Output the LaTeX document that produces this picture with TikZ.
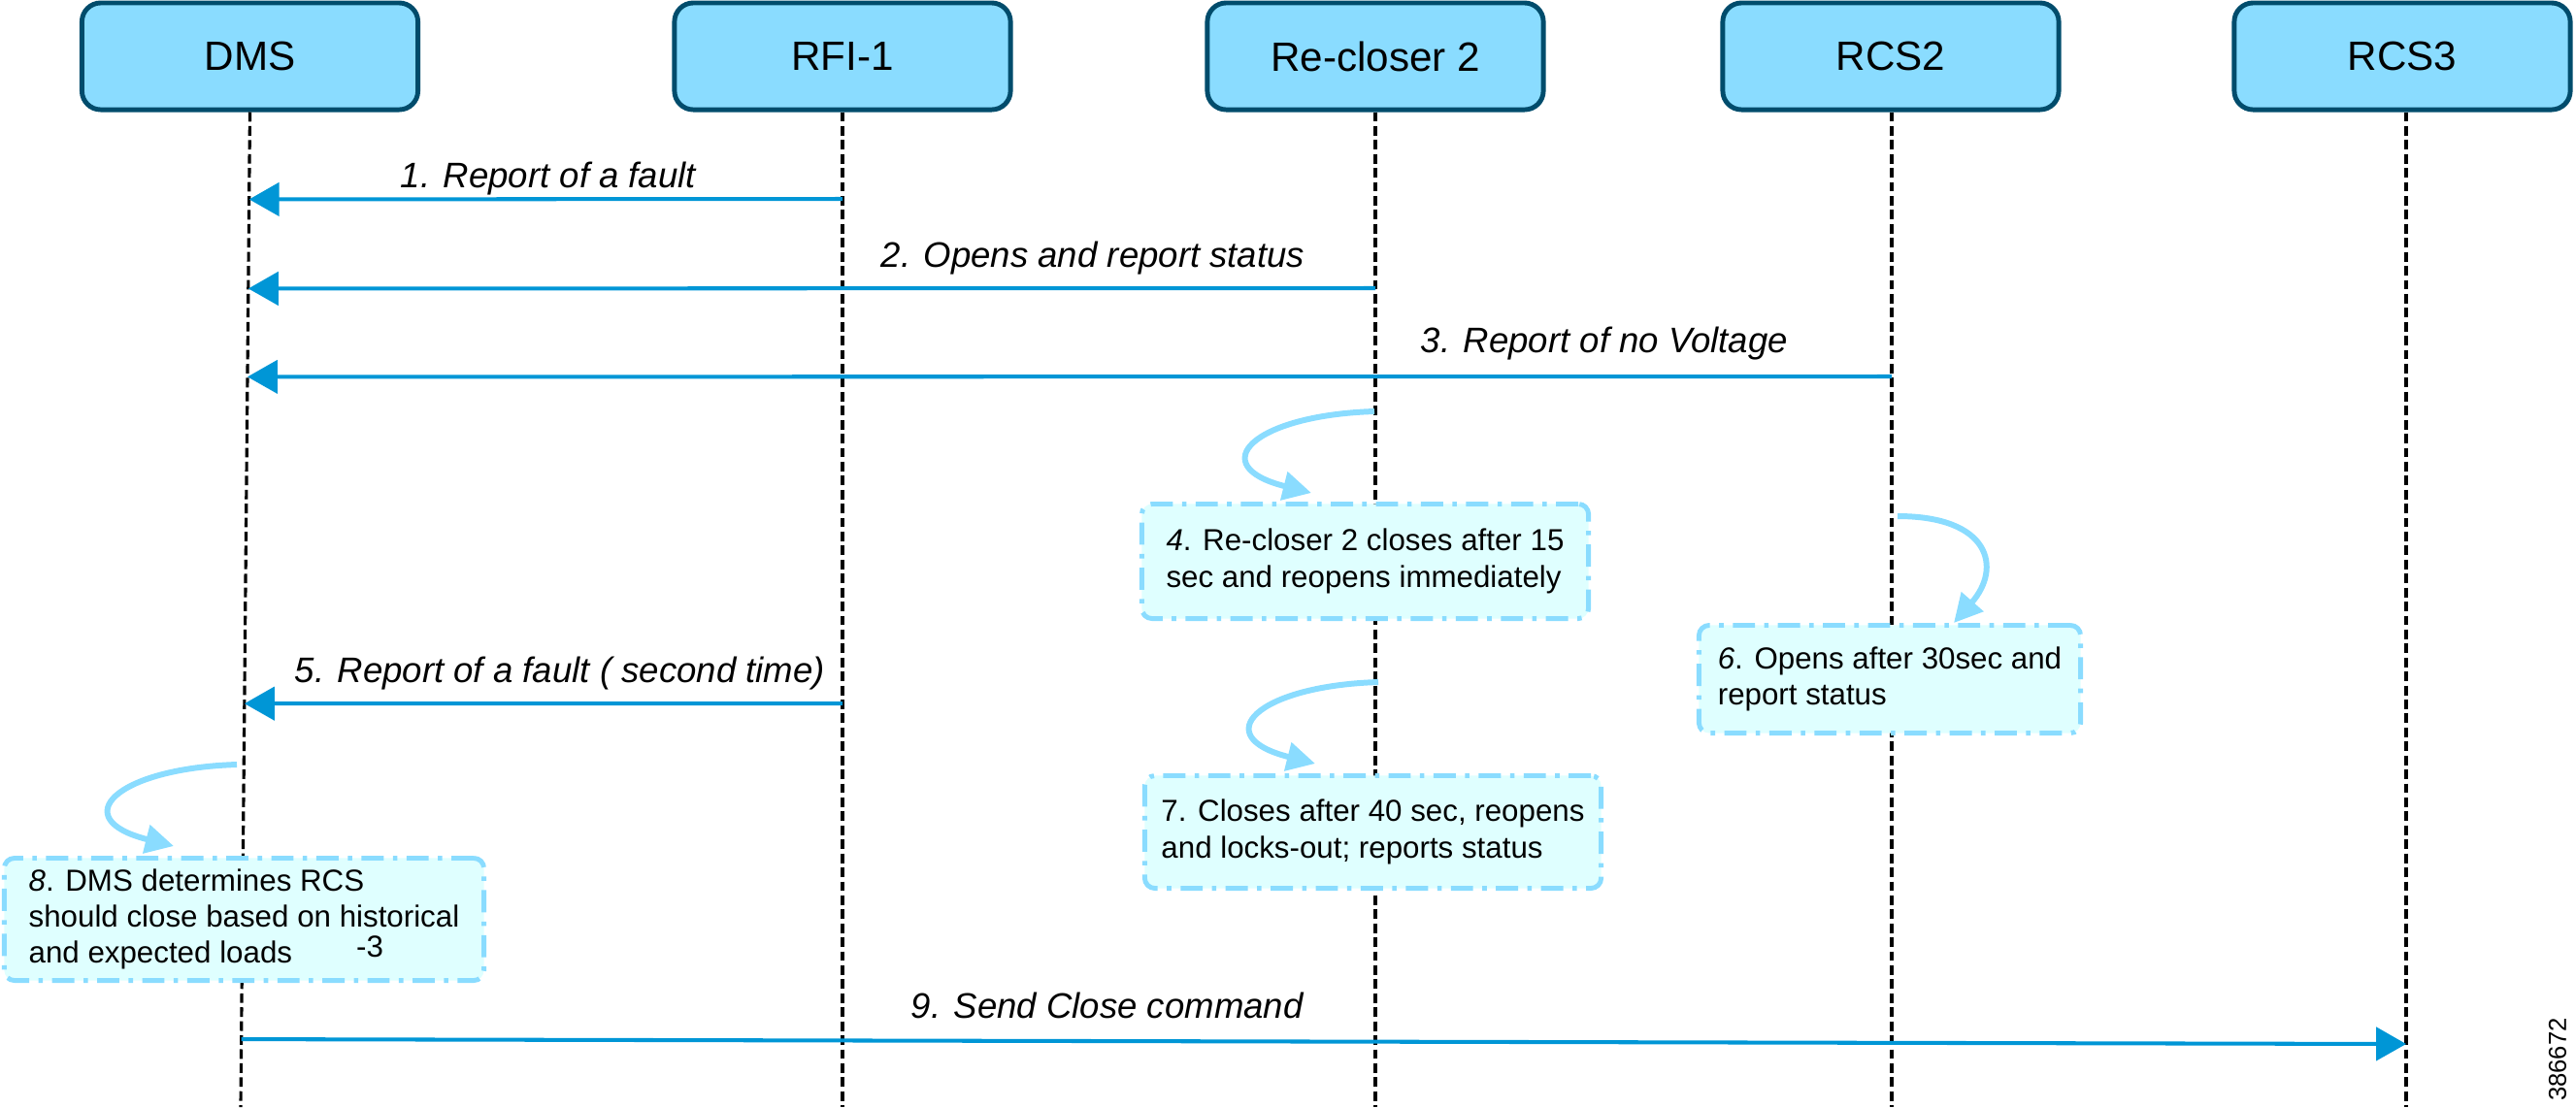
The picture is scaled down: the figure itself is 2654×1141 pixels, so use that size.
\documentclass[tikz,border=0pt]{standalone}
\usepackage{fontspec}
\setmainfont{Liberation Sans}
\usetikzlibrary{arrows.meta,calc}
\definecolor{hdrfill}{RGB}{138,220,255}
\definecolor{hdrline}{RGB}{0,76,108}
\definecolor{msgblue}{RGB}{0,150,214}
\definecolor{loopblue}{RGB}{138,220,255}
\definecolor{notefill}{RGB}{223,255,255}
\begin{document}
\begin{tikzpicture}[x=0.01cm,y=-0.01cm,
 header/.style={draw=hdrline, fill=hdrfill, line width=1.4pt, rounded corners=5.5pt,
   minimum width=3.46cm, minimum height=1.10cm, inner sep=0pt, font=\fontsize{12}{14}\selectfont},
 lifeline/.style={draw=black, line width=0.9pt, dash pattern=on 2.8pt off 1.3pt},
 msg/.style={draw=msgblue, line width=1.15pt, -{Triangle[length=8.8pt,width=9.7pt]}},
 msglabel/.style={font=\fontsize{10.4}{12}\selectfont\itshape, inner sep=0pt, anchor=base west},
 selfloop/.style={draw=loopblue, line width=1.7pt, -{Triangle[length=8.3pt,width=8.3pt]}},
 note/.style={draw=loopblue, fill=notefill, line width=1.4pt,
   dash pattern=on 6.5pt off 2.7pt on 1.3pt off 2.7pt, rounded corners=3pt,
   align=left, inner sep=0pt, font=\fontsize{8.9}{10.6}\selectfont}
]
\useasboundingbox (0,0) rectangle (2654,1141);

% participants
\node[header] (DMS)  at (257.5,58) {DMS};
\node[header] (RFI)  at (868,58)   {RFI-1};
\node[header] (RC2)  at (1417,58)  {Re-closer 2};
\node[header] (RCS2) at (1948,58)  {RCS2};
\node[header] (RCS3) at (2475,58)  {RCS3};

% lifeline ends
\coordinate (DMSb)  at (248,1141);
\coordinate (RFIb)  at (868,1141);
\coordinate (RC2b)  at (1417,1141);
\coordinate (RCS2b) at (1949,1141);
\coordinate (RCS3b) at (2479,1141);

\draw[lifeline] (DMS.south) -- (DMSb);
\draw[lifeline] (RFI.south) -- (RFIb);
\draw[lifeline] (RC2.south) -- (RC2b);
\draw[lifeline] (RCS2.south -| RCS2b) -- (RCS2b);
\draw[lifeline] (RCS3.south -| RCS3b) -- (RCS3b);

% messages
\draw[msg] (RFIb |- 0,205) -- ($(DMS.south)!0.0877!(DMSb)$);
\draw[msg] (RC2b |- 0,297) -- ($(DMS.south)!0.1774!(DMSb)$);
\draw[msg] (RCS2b |- 0,388) -- ($(DMS.south)!0.2661!(DMSb)$);
\draw[msg] (RFIb |- 0,725) -- ($(DMS.south)!0.5945!(DMSb)$);
\draw[msg] ($(DMS.south)!0.9318!(DMSb)$) -- (RCS3b |- 0,1076);

\node[msglabel] (l1) at (412,193)  {1. Report of a fault};
\node[msglabel] (l2) at (907,275)  {2. Opens and report status};
\node[msglabel] (l3) at (1463,363) {3. Report of no Voltage};
\node[msglabel] (l5) at (303,703)  {5. Report of a fault ( second time)};
\node[msglabel] (l9) at (938,1049) {9. Send Close command};

% notes
\node[note, minimum width=4.60cm, minimum height=1.18cm] (n4) at (1406.5,578.5)
  {{\itshape 4}. Re-closer 2 closes after 15\\sec and reopens immediately};
\node[note, minimum width=3.93cm, minimum height=1.11cm] (n6) at (1947,700)
  {{\itshape 6}. Opens after 30sec and\\report status};
\node[note, minimum width=4.70cm, minimum height=1.16cm] (n7) at (1414.5,857.5)
  {7. Closes after 40 sec, reopens\\and locks-out; reports status};
\node[note, minimum width=4.94cm, minimum height=1.26cm] (n8) at (251.5,947.5)
  {{\itshape 8}. DMS determines RCS\\should close based on historical\\and expected loads\hspace{0.66cm}\raisebox{0.06cm}{-3}};

% self loops
\coordinate (s4) at (1416,424);  \coordinate (e4) at (1351,508);
\coordinate (s6) at (1955,532);  \coordinate (e6) at (2013,642);
\coordinate (s7) at (1420,703);  \coordinate (e7) at (1355,787);
\coordinate (s8) at (244,788);   \coordinate (e8) at (179,872);
\draw[selfloop] (s4) .. controls ($(s4)+(-126,4)$) and ($(s4)+(-176,56)$) .. (e4);
\draw[selfloop] (s7) .. controls ($(s7)+(-126,4)$) and ($(s7)+(-176,56)$) .. (e7);
\draw[selfloop] (s8) .. controls ($(s8)+(-126,4)$) and ($(s8)+(-176,56)$) .. (e8);
\draw[selfloop] (s6) .. controls ($(s6)+(95,0)$) and ($(s6)+(108,53)$) .. (e6);

% figure number
\node[font=\fontsize{7.3}{8}\selectfont, rotate=90, inner sep=0pt] (fig) at (2635,1092) {386672};
\end{tikzpicture}
\end{document}
